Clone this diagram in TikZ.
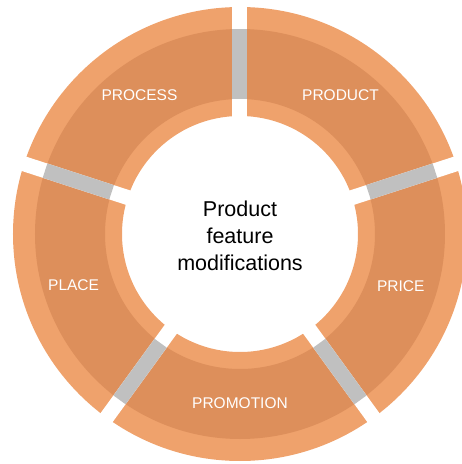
\documentclass[tikz,border=0pt]{standalone}
\usepackage{fontspec}
\setmainfont{Liberation Sans}
\definecolor{ringlight}{HTML}{EFA26C}
\definecolor{ringdark}{HTML}{DD8F5B}
\definecolor{linkgray}{HTML}{C0C0C0}
\tikzset{seglabel/.style={text=white,font=\fontsize{15.5}{18}\selectfont}}
\begin{document}
\begin{tikzpicture}[x=1pt,y=1pt]
  \useasboundingbox (-240,-230) rectangle (222,234);
  \fill[ringlight,even odd rule] (0,0) circle (227) (0,0) circle (118);
  \fill[ringdark,even odd rule] (0,0) circle (205) (0,0) circle (135);
  \foreach \a in {90,18,-54,-126,162} {
      \draw[white,line width=15] (\a:100) -- (\a:240);
      \draw[linkgray,line width=15] (\a:135) -- (\a:205);
  }
  \foreach \a/\r/\t/\n in {126/171/PROCESS/process,54/171/PRODUCT/product,-18/169/PRICE/price,-90/169/PROMOTION/promotion,197/174/PLACE/place} {
      \node[seglabel] (\n) at (\a:\r) {\t};
  }
  \node[align=center,font=\fontsize{21.5}{27}\selectfont] (core) at (0,-2) {Product\\feature\\modifications};
\end{tikzpicture}
\end{document}
